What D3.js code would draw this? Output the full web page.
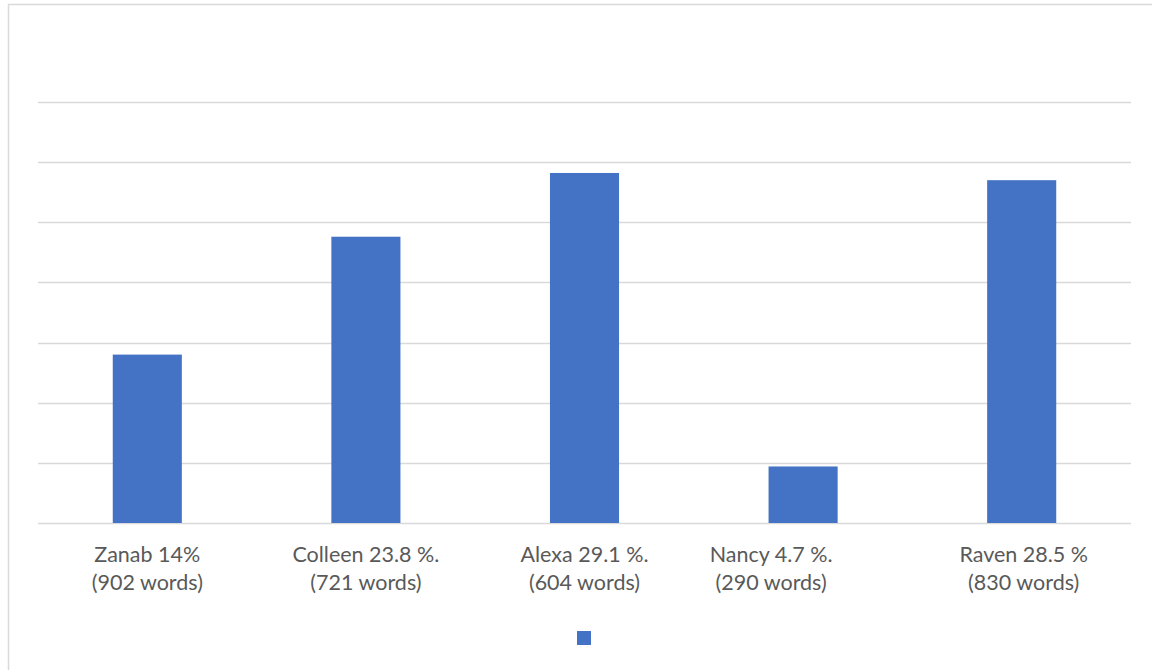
<!DOCTYPE html>
<html>
<head>
<meta charset="utf-8">
<script src="https://cdn.jsdelivr.net/npm/d3@7"></script>
<style>
  html, body { margin: 0; padding: 0; background: #ffffff; }
  svg { display: block; }
</style>
</head>
<body>
<svg id="chart" width="1152" height="670"></svg>
<script>
// Share of words spoken by each participant
const names    = ["Zanab", "Colleen", "Alexa", "Nancy", "Raven"];
const percents = [14, 23.8, 29.1, 4.7, 28.5];
const pctLabels = ["14%", "23.8 %.", "29.1 %.", "4.7 %.", "28.5 %"];
const words    = [902, 721, 604, 290, 830];
const yTicks   = [0, 5, 10, 15, 20, 25, 30, 35];

const svg = d3.select("#chart");
const W = 1152, H = 670;
const plot = { left: 38, right: 1131, top: 102, bottom: 523 };

// Chart frame (left and top edges)
svg.append("path")
  .attr("d", `M8.5,${H} L8.5,4.5 L${W},4.5`)
  .attr("fill", "none")
  .attr("stroke", "#d9d9d9")
  .attr("stroke-width", 1.5);

const x = d3.scaleBand()
  .domain(names)
  .range([plot.left, plot.right])
  .paddingInner(0.684)
  .paddingOuter(0.342);

const y = d3.scaleLinear()
  .domain([0, 35])
  .range([plot.bottom, plot.top]);

// Horizontal gridlines
svg.append("g")
  .selectAll("line")
  .data(yTicks)
  .join("line")
  .attr("x1", plot.left)
  .attr("x2", plot.right)
  .attr("y1", d => Math.round(y(d)) + 0.5)
  .attr("y2", d => Math.round(y(d)) + 0.5)
  .attr("stroke", "#d9d9d9")
  .attr("stroke-width", 1.5);

// Bars
svg.append("g")
  .selectAll("rect")
  .data(names)
  .join("rect")
  .attr("x", d => x(d))
  .attr("width", x.bandwidth())
  .attr("y", (d, i) => y(percents[i]))
  .attr("height", (d, i) => y(0) - y(percents[i]))
  .attr("fill", "#4472c4");

// Category labels, two lines each
const nudge = { Nancy: -32, Raven: 2 };
const labels = svg.append("g")
  .attr("font-family", "Lato, 'Open Sans', sans-serif")
  .attr("font-size", 21.5)
  .attr("fill", "#595959")
  .attr("text-anchor", "middle");

names.forEach((n, i) => {
  const cx = x(n) + x.bandwidth() / 2 + (nudge[n] || 0);
  const t = labels.append("text").attr("x", cx).attr("y", 562);
  t.append("tspan").attr("x", cx).attr("y", 562).text(`${n} ${pctLabels[i]}`);
  t.append("tspan").attr("x", cx).attr("y", 590).text(`(${words[i]} words)`);
});

// Legend swatch (series has no name)
svg.append("rect")
  .attr("x", 577)
  .attr("y", 631)
  .attr("width", 14)
  .attr("height", 14)
  .attr("fill", "#4472c4");
</script>
</body>
</html>
